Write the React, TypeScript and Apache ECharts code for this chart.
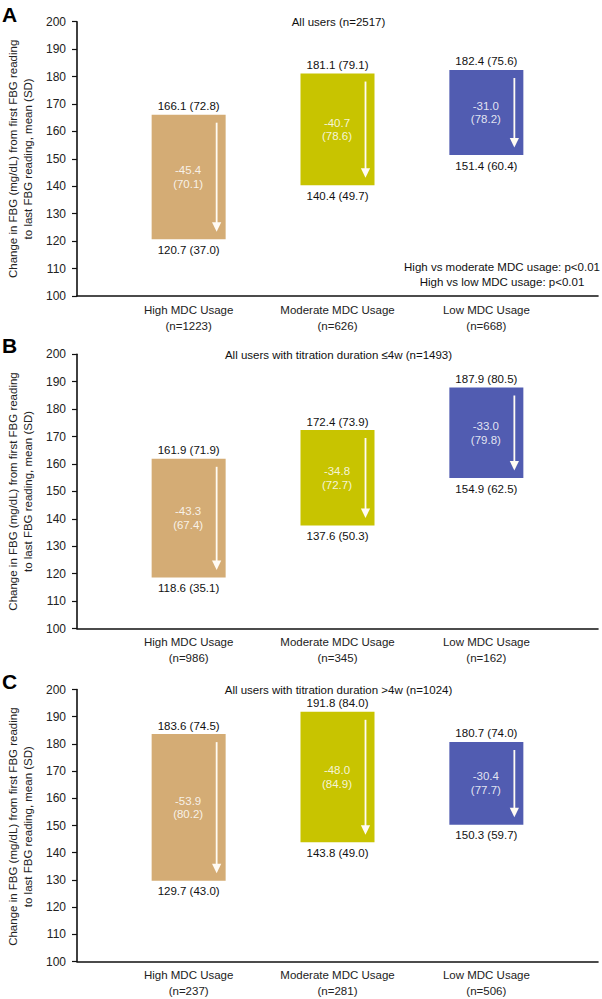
import React, { useEffect, useRef } from "react";
import * as echarts from "echarts";

const categories = ["High MDC Usage", "Moderate MDC Usage", "Low MDC Usage"];
const panelLetters = ["A", "B", "C"];
const panelTitles = [
  "All users (n=2517)",
  "All users with titration duration \u22644w (n=1493)",
  "All users with titration duration >4w (n=1024)",
];
const yTicks = { min: 100, max: 200, interval: 10 };

const nA = [1223, 626, 668];
const firstA = [166.1, 181.1, 182.4];
const firstSDA = [72.8, 79.1, 75.6];
const lastA = [120.7, 140.4, 151.4];
const lastSDA = [37.0, 49.7, 60.4];
const changeA = [-45.4, -40.7, -31.0];
const changeSDA = [70.1, 78.6, 78.2];

const nB = [986, 345, 162];
const firstB = [161.9, 172.4, 187.9];
const firstSDB = [71.9, 73.9, 80.5];
const lastB = [118.6, 137.6, 154.9];
const lastSDB = [35.1, 50.3, 62.5];
const changeB = [-43.3, -34.8, -33.0];
const changeSDB = [67.4, 72.7, 79.8];

const nC = [237, 281, 506];
const firstC = [183.6, 191.8, 180.7];
const firstSDC = [74.5, 84.0, 74.0];
const lastC = [129.7, 143.8, 150.3];
const lastSDC = [43.0, 49.0, 59.7];
const changeC = [-53.9, -48.0, -30.4];
const changeSDC = [80.2, 84.9, 77.7];

const pValueNote = "High vs moderate MDC usage: p<0.01\nHigh vs low MDC usage: p<0.01";
const yAxisName = "Change in FBG (mg/dL) from first FBG reading\nto last FBG reading, mean (SD)";

const panels = [
  { n: nA, first: firstA, firstSD: firstSDA, last: lastA, lastSD: lastSDA, change: changeA, changeSD: changeSDA },
  { n: nB, first: firstB, firstSD: firstSDB, last: lastB, lastSD: lastSDB, change: changeB, changeSD: changeSDB },
  { n: nC, first: firstC, firstSD: firstSDC, last: lastC, lastSD: lastSDC, change: changeC, changeSD: changeSDC },
];

const barColors = ["#D4AC75", "#C8C400", "#515CB1"];
const FONT = "'Liberation Sans', Arial, Helvetica, sans-serif";
const gridTops = [21.7, 354.3, 689.5];
const gridHeight = 274.3;
const gridLeft = 77;
const gridWidth = 521;

function buildOption() {
  const grid = panels.map((_, i) => ({ left: gridLeft, width: gridWidth, top: gridTops[i], height: gridHeight }));
  const xAxis = panels.map((p, i) => ({
    type: "value",
    gridIndex: i,
    min: 0.25,
    max: 3.75,
    axisLine: { show: true, onZero: false, lineStyle: { color: "#111", width: 1.6 } },
    axisTick: { show: false },
    splitLine: { show: false },
    axisLabel: {
      customValues: [1, 2, 3],
      formatter: (v: number) => {
        const k = Math.round(v) - 1;
        return categories[k] + "\n(n=" + p.n[k] + ")";
      },
      fontSize: 11.5,
      lineHeight: 16,
      color: "#222",
      fontFamily: FONT,
      margin: 5.5,
    },
  }));
  const yAxis = panels.map((_, i) => ({
    type: "value",
    gridIndex: i,
    min: yTicks.min,
    max: yTicks.max,
    interval: yTicks.interval,
    axisLine: { show: true, onZero: false, lineStyle: { color: "#111", width: 1.6 } },
    axisTick: { show: true, inside: false, length: 5, lineStyle: { color: "#111", width: 1.2 } },
    splitLine: { show: false },
    axisLabel: { fontSize: 12, color: "#222", fontFamily: FONT, margin: 11 },
  }));

  const series = panels.map((p, i) => ({
    type: "custom",
    xAxisIndex: i,
    yAxisIndex: i,
    data: categories.map((_, k) => [k + 1, p.first[k], p.last[k], p.change[k], p.changeSD[k], p.firstSD[k], p.lastSD[k]]),
    renderItem: (params: any, api: any) => {
      const x = api.value(0);
      const first = api.value(1);
      const last = api.value(2);
      const ch = api.value(3);
      const chSD = api.value(4);
      const fSD = api.value(5);
      const lSD = api.value(6);
      const idx = params.dataIndex;
      const pT = api.coord([x, first]);
      const pB = api.coord([x, last]);
      const cx = pT[0];
      const yT = pT[1];
      const yB = pB[1];
      const bw = 74;
      const ax = cx + 28;
      const mid = (yT + yB) / 2;
      return {
        type: "group",
        children: [
          { type: "rect", shape: { x: cx - bw / 2, y: yT, width: bw, height: yB - yT }, style: { fill: barColors[idx] } },
          { type: "line", shape: { x1: ax, y1: yT + 8, x2: ax, y2: yB - 14 }, style: { stroke: "#FFFBF4", lineWidth: 1.8 } },
          {
            type: "polygon",
            shape: { points: [[ax - 4.6, yB - 17], [ax + 4.6, yB - 17], [ax, yB - 7.5]] },
            style: { fill: "#FFFBF4" },
          },
          {
            type: "text",
            x: cx,
            y: yT - 8.5,
            style: {
              text: first.toFixed(1) + " (" + fSD.toFixed(1) + ")",
              align: "center",
              verticalAlign: "middle",
              fill: "#111",
              fontSize: 11.5,
              fontFamily: FONT,
            },
          },
          {
            type: "text",
            x: cx,
            y: yB + 10.5,
            style: {
              text: last.toFixed(1) + " (" + lSD.toFixed(1) + ")",
              align: "center",
              verticalAlign: "middle",
              fill: "#111",
              fontSize: 11.5,
              fontFamily: FONT,
            },
          },
          {
            type: "text",
            x: cx - 0.5,
            y: mid,
            style: {
              text: ch.toFixed(1) + "\n(" + chSD.toFixed(1) + ")",
              align: "center",
              verticalAlign: "middle",
              lineHeight: 13.7,
              fill: "rgba(255,255,255,0.85)",
              fontSize: 11.5,
              fontFamily: FONT,
            },
          },
        ],
      };
    },
  }));

  const graphic: any[] = [];
  panels.forEach((_, i) => {
    const top = gridTops[i];
    graphic.push({
      type: "text",
      x: 2,
      y: top - 7.5 + (i === 0 ? 0 : -1),
      style: { text: panelLetters[i], fontSize: 21, fontWeight: "bold", fontFamily: FONT, fill: "#000", align: "left", verticalAlign: "middle" },
    });
    graphic.push({
      type: "text",
      x: 338.5,
      y: top + 0.5,
      style: { text: panelTitles[i], fontSize: 11.5, fontFamily: FONT, fill: "#111", align: "center", verticalAlign: "middle" },
    });
    graphic.push({
      type: "text",
      x: 20.5,
      y: top + gridHeight / 2,
      rotation: Math.PI / 2,
      style: { text: yAxisName, fontSize: 11.5, lineHeight: 15, fontFamily: FONT, fill: "#222", align: "center", verticalAlign: "middle" },
    });
  });
  graphic.push({
    type: "text",
    x: 502,
    y: 274.2,
    style: { text: pValueNote, fontSize: 11.5, lineHeight: 15, fontFamily: FONT, fill: "#111", align: "center", verticalAlign: "middle" },
  });

  return { animation: false, backgroundColor: "#fff", grid, xAxis, yAxis, series, graphic };
}

export default function App() {
  const ref = useRef<HTMLDivElement>(null);
  useEffect(() => {
    if (!ref.current) return;
    const chart = echarts.init(ref.current, null, { renderer: "svg" });
    chart.setOption(buildOption() as any);
    return () => chart.dispose();
  }, []);
  return (
    <div
      ref={ref}
      style={{ position: "absolute", left: 0, top: 0, width: 602, height: 999, background: "#fff" }}
    />
  );
}
